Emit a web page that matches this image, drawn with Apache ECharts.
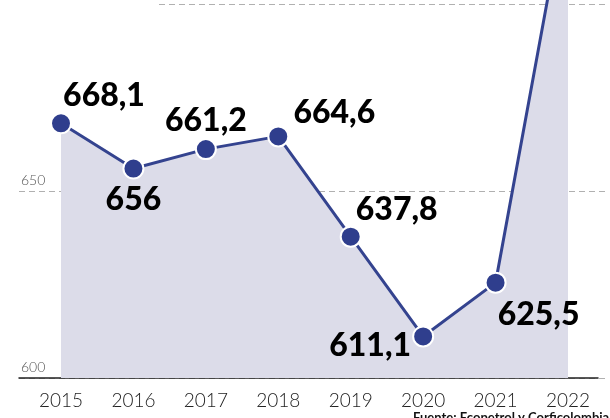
<!DOCTYPE html>
<html>
<head>
<meta charset="utf-8">
<script src="https://cdn.jsdelivr.net/npm/echarts@6/dist/echarts.min.js"></script>
<style>html,body{margin:0;padding:0;background:#fff}#c{width:610px;height:418px}</style>
</head>
<body>
<div id="c"></div>
<script>
const years = ['2015','2016','2017','2018','2019','2020','2021','2022'];
const values = [668.1, 656, 661.2, 664.6, 637.8, 611.1, 625.5, 731];
const valueLabels = ['668,1','656','661,2','664,6','637,8','611,1','625,5',''];
const labelOffsets = [[43,-28],[0,31],[0,-28],[56,-24],[46,-27],[-53,9],[43,32],[0,0]];
const yTicks = [600, 650, 700];

const chart = echarts.init(document.getElementById('c'));
const TOP = 4, BOTTOM = 40;
chart.setOption({
  animation: false,
  backgroundColor: '#fff',
  title: {
    text: 'Fuente: Ecopetrol y Corficolombiana',
    left: 408, top: 406,
    textStyle: {fontFamily: 'Lato', fontSize: 13, fontWeight: 'bold', color: '#111'}
  },
  grid: [
    {left: 61, right: 42, top: TOP, bottom: BOTTOM},
    {left: 19, right: 2, top: TOP, bottom: BOTTOM},
    {left: 19, right: 12, top: TOP, bottom: BOTTOM}
  ],
  xAxis: [
    {type: 'category', gridIndex: 0, data: years, boundaryGap: false,
     axisLine: {show: false}, axisTick: {show: false},
     axisLabel: {margin: 13, fontFamily: 'Lato', fontWeight: 300, fontSize: 19, color: '#222'}},
    {type: 'value', gridIndex: 1, show: false, min: 0, max: 1},
    {type: 'value', gridIndex: 2, min: 0, max: 1, splitLine: {show: false},
     axisLabel: {show: false}, axisTick: {show: false},
     axisLine: {show: true, lineStyle: {color: '#222', width: 1.5}}}
  ],
  yAxis: [
    {type: 'value', gridIndex: 0, min: yTicks[0], max: yTicks[2], interval: 50, show: false},
    {type: 'value', gridIndex: 1, min: yTicks[0], max: yTicks[2], interval: 50,
     axisLine: {show: false}, axisTick: {show: false},
     splitLine: {show: true, lineStyle: {color: '#b0b0b0', type: [6, 4], width: 1}},
     axisLabel: {inside: true, margin: 2, align: 'left', verticalAlign: 'bottom',
       padding: [0, 0, 4, 0], fontFamily: 'Lato', fontWeight: 300, fontSize: 14, color: '#555',
       formatter: v => (v === 600 || v === 650) ? String(v) : ''}},
    {type: 'value', gridIndex: 2, min: yTicks[0], max: yTicks[2], show: false}
  ],
  graphic: [
    {type: 'rect', shape: {x: 0, y: 0, width: 155, height: 10}, style: {fill: '#fff'}, z: 5}
  ],
  series: [{
    type: 'line',
    xAxisIndex: 0, yAxisIndex: 0,
    data: values.map((v, i) => ({
      value: v,
      label: {show: valueLabels[i] !== '', formatter: valueLabels[i], offset: labelOffsets[i]}
    })),
    clip: false,
    symbol: 'circle',
    symbolSize: 20,
    itemStyle: {color: '#2f3e8d', borderColor: '#fff', borderWidth: 2},
    lineStyle: {color: '#34438f', width: 3},
    areaStyle: {color: '#dcdce9', opacity: 1},
    label: {position: 'inside', fontFamily: 'Lato', fontWeight: 900, fontSize: 32, color: '#000',
      align: 'center', verticalAlign: 'middle'},
    z: 3
  }]
});
</script>
</body>
</html>
